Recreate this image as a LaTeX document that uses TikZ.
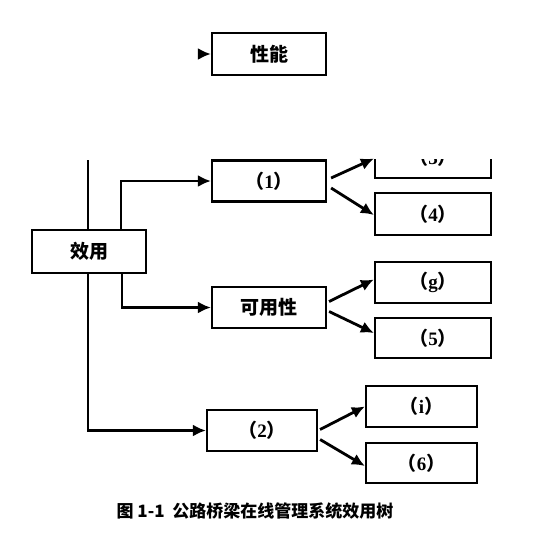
\documentclass[tikz,border=0pt]{standalone}
\usepackage{fontspec}
\setmainfont{Liberation Serif}
\newfontfamily\cjk{Noto Sans CJK SC}
\usetikzlibrary{arrows.meta}
\newcommand\pl[1]{{\cjk\bfseries （}{\rmfamily\bfseries\fontsize{19}{19}\selectfont #1}{\cjk\bfseries ）}}
\tikzset{
  box/.style={draw=black, line width=2.2pt, minimum height=41pt, inner sep=0pt,
    font=\fontsize{19}{19}\selectfont\cjk\bfseries},
  link/.style={line width=2.8pt},
  arrow/.style={link, -{Latex[length=13pt,width=12pt]}},
}
\begin{document}
\begin{tikzpicture}[x=1pt,y=-1pt]
\useasboundingbox (0,0) rectangle (537,536);
% top
\node[box, minimum width=114pt, minimum height=42pt] (perf) at (269,54) {性能};
\coordinate (pin) at (199,54);
\draw[arrow] (pin) -- (perf.west);
% second level
\node[box, minimum width=114pt, minimum height=43pt] (util) at (89,251.5) {效用};
\node[box, minimum width=114pt] (n1) at (269,181) {\pl{1}};
\node[box, minimum width=114pt] (avail) at (269,307.5) {可用性};
\node[box, minimum width=110pt] (n2) at (262,430.5) {\pl{2}};
% third level
\begin{scope}
  \clip (360,159) rectangle (500,200);
  \node[box, minimum width=116pt] (n3) at (433,157.5) {\pl{3}};
\end{scope}
\node[box, minimum width=116pt, minimum height=42pt] (n4) at (433,214) {\pl{4}};
\node[box, minimum width=116pt] (ng) at (433,282.5) {\pl{g}};
\node[box, minimum width=116pt, minimum height=40pt] (n5) at (433,338) {\pl{5}};
\node[box, minimum width=111pt] (ni) at (421.5,406.5) {\pl{i}};
\node[box, minimum width=111pt, minimum height=40pt] (n6) at (421.5,463) {\pl{6}};
% trunk
\coordinate (vt) at (88,160);
\draw[link] (vt) -- (vt |- util.north);
\draw[arrow] ([xshift=-1pt]util.south) |- (n2.west);
\draw[arrow] ([xshift=32pt]util.north) |- (n1.west);
\draw[arrow] ([xshift=33pt]util.south) |- (avail.west);
% branches
\draw[arrow] ([xshift=4pt,yshift=3pt]n1.east) -- ([yshift=-1pt]n3.west);
\draw[arrow] ([xshift=4pt,yshift=-7pt]n1.east) -- ([yshift=-1pt]n4.west);
\draw[arrow] ([xshift=2pt,yshift=6pt]avail.east) -- ([yshift=3pt]ng.west);
\draw[arrow] ([xshift=2pt,yshift=-4pt]avail.east) -- ([yshift=5pt]n5.west);
\draw[arrow] ([xshift=2pt,yshift=1pt]n2.east) -- (ni.west);
\draw[arrow] ([xshift=2pt,yshift=-9pt]n2.east) -- ([yshift=-3pt]n6.west);
% caption
\node[font=\fontsize{17}{17}\selectfont\cjk\bfseries] (cap) at (255,511) {图 1-1\ \ 公路桥梁在线管理系统效用树};
\end{tikzpicture}
\end{document}
